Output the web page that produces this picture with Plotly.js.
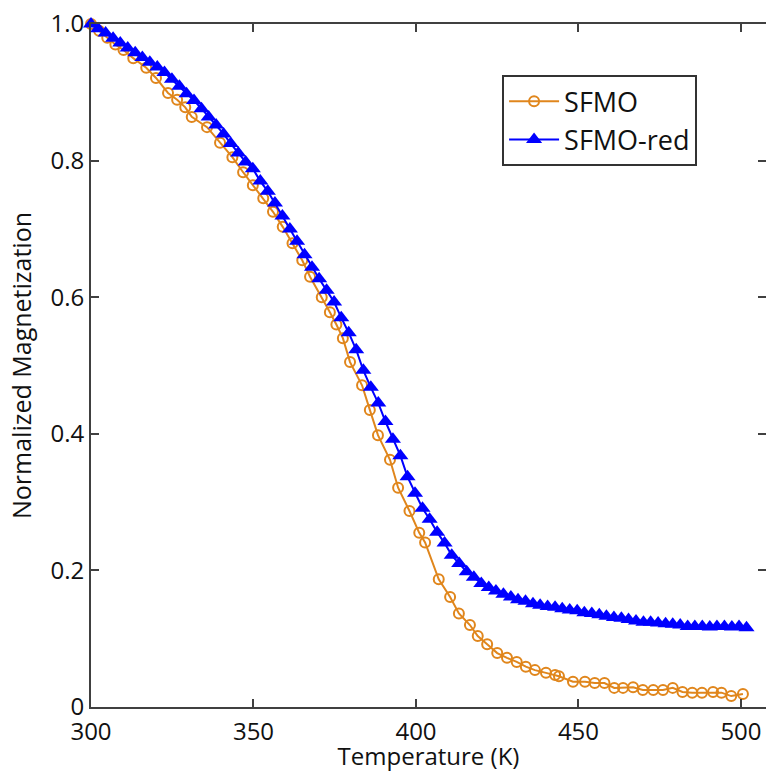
<!DOCTYPE html>
<html>
<head>
<meta charset="utf-8">
<script src="https://cdn.plot.ly/plotly-3.0.1.min.js"></script>
<style>html,body{margin:0;padding:0;background:#fff;}</style>
</head>
<body>
<div id="chart" style="width:766px;height:772px;"></div>
<script>
// SFMO (open circles, orange)
const sfmoT = [300.0, 302.5, 305.0, 307.5, 310.0, 313.0, 317.0, 320.0, 323.7, 326.5, 329.0, 331.0, 335.7, 339.7, 343.5, 346.8, 349.8, 353.0, 356.0, 359.0, 362.0, 365.0, 367.4, 371.0, 373.5, 375.5, 377.5, 379.7, 383.4, 385.8, 388.3, 392.0, 394.5, 398.0, 401.0, 402.8, 407.0, 410.5, 413.2, 416.6, 419.0, 421.9, 425.0, 428.0, 431.0, 433.8, 436.6, 440.0, 442.8, 444.0, 448.3, 452.0, 455.0, 458.0, 461.0, 463.7, 466.8, 469.8, 473.0, 476.0, 479.0, 482.0, 485.0, 488.0, 491.4, 494.0, 497.0, 500.6];
const sfmoM = [1.000, 0.990, 0.980, 0.970, 0.962, 0.950, 0.936, 0.921, 0.899, 0.889, 0.878, 0.864, 0.849, 0.826, 0.805, 0.783, 0.764, 0.745, 0.725, 0.703, 0.679, 0.654, 0.630, 0.600, 0.578, 0.560, 0.540, 0.505, 0.471, 0.435, 0.398, 0.362, 0.321, 0.287, 0.255, 0.241, 0.187, 0.161, 0.137, 0.120, 0.104, 0.092, 0.079, 0.072, 0.066, 0.059, 0.054, 0.050, 0.047, 0.045, 0.037, 0.037, 0.035, 0.035, 0.028, 0.028, 0.029, 0.025, 0.025, 0.025, 0.028, 0.022, 0.021, 0.021, 0.022, 0.021, 0.016, 0.019];

// SFMO-red (filled triangles, blue)
const redT = [300.0, 302.2, 304.5, 306.8, 309.0, 311.3, 313.6, 315.8, 318.1, 320.4, 322.6, 324.9, 327.2, 329.4, 331.7, 334.0, 336.2, 338.5, 340.8, 343.0, 345.3, 347.6, 349.8, 352.1, 354.4, 356.6, 358.9, 361.2, 363.4, 365.7, 368.0, 370.2, 372.5, 374.8, 377.0, 379.3, 381.6, 383.8, 386.1, 388.4, 390.6, 392.9, 395.2, 397.4, 399.7, 402.0, 404.2, 406.5, 408.8, 411.0, 413.3, 415.6, 417.8, 420.1, 422.4, 424.6, 426.9, 429.2, 431.4, 433.7, 436.0, 438.2, 440.5, 442.8, 445.0, 447.3, 449.6, 451.8, 454.1, 456.4, 458.6, 460.9, 463.2, 465.4, 467.7, 470.0, 472.2, 474.5, 476.8, 479.0, 481.3, 483.6, 485.8, 488.1, 490.4, 492.6, 494.9, 497.2, 499.4, 501.7];
const redM = [1.000, 0.993, 0.987, 0.979, 0.972, 0.965, 0.958, 0.951, 0.944, 0.937, 0.929, 0.919, 0.909, 0.898, 0.888, 0.876, 0.864, 0.852, 0.839, 0.825, 0.811, 0.798, 0.788, 0.770, 0.755, 0.738, 0.719, 0.700, 0.682, 0.662, 0.644, 0.627, 0.610, 0.593, 0.570, 0.548, 0.523, 0.493, 0.468, 0.445, 0.418, 0.392, 0.368, 0.337, 0.313, 0.291, 0.275, 0.256, 0.240, 0.222, 0.210, 0.198, 0.190, 0.181, 0.175, 0.170, 0.165, 0.161, 0.157, 0.155, 0.151, 0.149, 0.147, 0.146, 0.144, 0.142, 0.141, 0.138, 0.137, 0.135, 0.133, 0.131, 0.130, 0.128, 0.126, 0.124, 0.124, 0.123, 0.122, 0.121, 0.120, 0.118, 0.118, 0.118, 0.117, 0.118, 0.118, 0.117, 0.118, 0.116];

const yTickVals = [0, 0.2, 0.4, 0.6, 0.8, 1.0];
const yTickText = ['0', '0.2', '0.4', '0.6', '0.8', '1.0'];
const xTickVals = [300, 350, 400, 450, 500];

const FONT = '"Open Sans", "DejaVu Sans", sans-serif';
const AXC = '#404040';
const TXT = '#111';

const traces = [
  {
    x: sfmoT, y: sfmoM, name: 'SFMO', type: 'scatter', mode: 'lines+markers',
    line: {color: '#E0861C', width: 2},
    marker: {symbol: 'circle-open', size: 10, color: '#E0861C', line: {width: 2, color: '#E0861C'}},
    cliponaxis: false
  },
  {
    x: redT, y: redM, name: 'SFMO-red', type: 'scatter', mode: 'lines+markers',
    line: {color: '#0000FF', width: 2},
    marker: {symbol: 'triangle-up', size: 14, color: '#0000FF'},
    cliponaxis: false
  }
];

const layout = {
  width: 766, height: 772,
  margin: {l: 91, r: 0, t: 24, b: 65, pad: 0},
  paper_bgcolor: '#fff', plot_bgcolor: '#fff',
  font: {family: FONT, size: 24, color: TXT},
  showlegend: true,
  legend: {
    x: 0.609, y: 0.925, xanchor: 'left', yanchor: 'top',
    bordercolor: '#333', borderwidth: 2, bgcolor: '#fff',
    font: {family: FONT, size: 27, color: TXT},
    itemwidth: 50
  },
  xaxis: {
    range: [300, 507.7], tickvals: xTickVals, ticktext: xTickVals.map(String),
    ticks: 'inside', ticklen: 8, tickwidth: 2, tickcolor: AXC,
    showline: true, linecolor: AXC, linewidth: 2, mirror: 'ticks',
    showgrid: false, zeroline: false,
    ticklabelstandoff: 2,
    tickfont: {family: FONT, size: 24, color: TXT},
    title: {text: 'Temperature (K)', font: {family: FONT, size: 24, color: TXT}, standoff: 2}
  },
  yaxis: {
    range: [0, 1], tickvals: yTickVals, ticktext: yTickText,
    ticks: 'inside', ticklen: 8, tickwidth: 2, tickcolor: AXC,
    showline: true, linecolor: AXC, linewidth: 2, mirror: 'ticks',
    showgrid: false, zeroline: false,
    tickfont: {family: FONT, size: 24, color: TXT},
    title: {text: 'Normalized Magnetization', font: {family: FONT, size: 25, color: TXT}, standoff: 12}
  }
};

Plotly.newPlot('chart', traces, layout, {displayModeBar: false, staticPlot: true});
</script>
</body>
</html>
